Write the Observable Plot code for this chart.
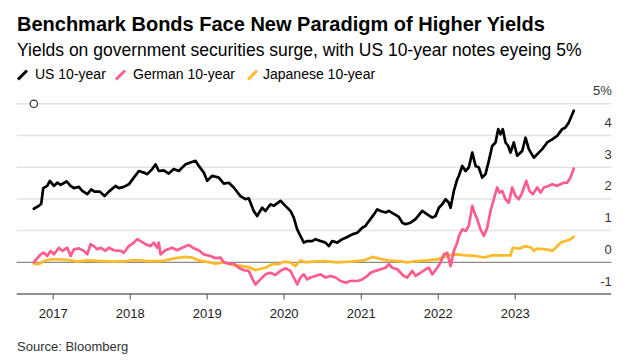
<!DOCTYPE html>
<html>
<head>
<meta charset="utf-8">
<script src="https://cdn.jsdelivr.net/npm/d3@7"></script>
<script src="https://cdn.jsdelivr.net/npm/@observablehq/plot@0.6"></script>
<style>
  html, body { margin: 0; padding: 0; background: #fff; }
  body { width: 638px; height: 362px; position: relative; overflow: hidden; font-family: "Liberation Sans", Arial, sans-serif; color: #000; }
  .t { position: absolute; white-space: nowrap; line-height: 1; }
  #title { left: 17px; top: 13.8px; font-size: 20px; font-weight: bold; }
  #subtitle { left: 17px; top: 41.9px; font-size: 17.5px; }
  .leg { top: 67.2px; font-size: 14px; }
  .sw { position: absolute; top: 68px; }
  #source { left: 17px; top: 340px; font-size: 13px; color: #333; }
  #chart { position: absolute; left: 0; top: 84px; }
</style>
</head>
<body>
<div id="title" class="t">Benchmark Bonds Face New Paradigm of Higher Yields</div>
<div id="subtitle" class="t">Yields on government securities surge, with US 10-year notes eyeing 5%</div>
<div id="legend"></div>
<div id="chart"></div>
<div id="source" class="t">Source: Bloomberg</div>
<script>
// Series: [decimal year, yield %]
const seriesNames = ["US 10-year", "German 10-year", "Japanese 10-year"];
const seriesColors = ["#000000", "#ff5c8c", "#fdbb2c"];

const us10 = [
[2016.748,1.69],[2016.813,1.78],[2016.844,1.85],[2016.870,2.34],[2016.922,2.41],[2016.956,2.57],
[2017.008,2.41],[2017.052,2.51],[2017.095,2.44],[2017.173,2.55],[2017.225,2.41],[2017.268,2.34],
[2017.332,2.38],[2017.377,2.25],[2017.442,2.15],[2017.494,2.30],[2017.536,2.23],[2017.605,2.23],
[2017.666,2.09],[2017.722,2.23],[2017.809,2.41],[2017.852,2.34],[2017.917,2.38],[2017.982,2.46],
[2018.047,2.67],[2018.112,2.88],[2018.177,2.83],[2018.221,2.78],[2018.286,2.94],[2018.329,3.09],
[2018.371,2.88],[2018.436,2.90],[2018.501,2.80],[2018.566,2.94],[2018.631,2.88],[2018.718,3.09],
[2018.783,3.15],[2018.848,3.20],[2018.891,3.04],[2018.956,2.83],[2019.000,2.57],[2019.065,2.73],
[2019.151,2.67],[2019.216,2.48],[2019.281,2.51],[2019.345,2.36],[2019.432,2.09],[2019.497,1.99],
[2019.540,2.02],[2019.605,1.62],[2019.649,1.46],[2019.714,1.72],[2019.757,1.62],[2019.822,1.83],
[2019.865,1.78],[2019.952,1.94],[2020.017,1.78],[2020.082,1.62],[2020.125,1.41],[2020.169,1.04],
[2020.212,0.83],[2020.255,0.62],[2020.299,0.67],[2020.364,0.67],[2020.406,0.73],[2020.471,0.67],
[2020.536,0.62],[2020.579,0.51],[2020.623,0.67],[2020.688,0.62],[2020.753,0.73],[2020.818,0.80],
[2020.883,0.88],[2020.948,0.93],[2021.013,1.09],[2021.056,1.15],[2021.099,1.30],[2021.164,1.51],
[2021.208,1.67],[2021.251,1.62],[2021.316,1.57],[2021.358,1.62],[2021.423,1.53],[2021.488,1.43],
[2021.532,1.25],[2021.575,1.20],[2021.640,1.25],[2021.705,1.36],[2021.792,1.62],[2021.857,1.51],
[2021.922,1.41],[2021.965,1.46],[2022.008,1.72],[2022.052,1.83],[2022.095,1.99],[2022.138,1.88],
[2022.160,1.72],[2022.203,2.25],[2022.247,2.62],[2022.268,2.73],[2022.312,3.04],[2022.355,2.88],
[2022.397,2.99],[2022.442,3.46],[2022.485,3.04],[2022.527,2.99],[2022.571,2.67],[2022.614,2.78],
[2022.657,3.20],[2022.701,3.67],[2022.744,3.78],[2022.779,4.20],[2022.809,4.04],[2022.839,4.20],
[2022.874,3.78],[2022.909,3.67],[2022.939,3.46],[2022.982,3.78],[2023.026,3.36],[2023.091,3.51],
[2023.134,3.93],[2023.177,3.57],[2023.242,3.30],[2023.306,3.46],[2023.351,3.57],[2023.416,3.78],
[2023.481,3.88],[2023.545,3.99],[2023.610,4.20],[2023.653,4.25],[2023.696,4.41],[2023.761,4.78]
];

const de10 = [
[2016.748,0.00],[2016.835,0.25],[2016.878,0.30],[2016.922,0.20],[2016.965,0.36],[2017.008,0.25],
[2017.073,0.46],[2017.117,0.36],[2017.182,0.46],[2017.225,0.20],[2017.268,0.41],[2017.332,0.44],
[2017.397,0.36],[2017.442,0.25],[2017.484,0.57],[2017.527,0.51],[2017.571,0.41],[2017.614,0.46],
[2017.679,0.36],[2017.722,0.46],[2017.787,0.38],[2017.874,0.36],[2017.917,0.30],[2017.982,0.51],
[2018.047,0.62],[2018.091,0.73],[2018.134,0.67],[2018.199,0.57],[2018.264,0.51],[2018.306,0.62],
[2018.351,0.46],[2018.371,0.62],[2018.394,0.25],[2018.458,0.38],[2018.545,0.46],[2018.610,0.38],
[2018.675,0.46],[2018.761,0.55],[2018.826,0.44],[2018.891,0.38],[2018.956,0.25],[2019.043,0.20],
[2019.108,0.13],[2019.173,0.15],[2019.216,0.00],[2019.281,-0.04],[2019.345,-0.04],[2019.410,-0.17],
[2019.475,-0.25],[2019.540,-0.27],[2019.592,-0.54],[2019.627,-0.70],[2019.692,-0.54],[2019.757,-0.38],
[2019.822,-0.33],[2019.887,-0.40],[2019.952,-0.27],[2020.017,-0.19],[2020.082,-0.27],[2020.125,-0.48],
[2020.169,-0.70],[2020.212,-0.48],[2020.255,-0.38],[2020.299,-0.54],[2020.342,-0.48],[2020.406,-0.43],
[2020.471,-0.38],[2020.536,-0.48],[2020.601,-0.43],[2020.666,-0.48],[2020.731,-0.59],[2020.795,-0.64],
[2020.861,-0.59],[2020.948,-0.59],[2021.013,-0.54],[2021.078,-0.43],[2021.121,-0.33],[2021.186,-0.27],
[2021.251,-0.22],[2021.316,-0.17],[2021.358,-0.06],[2021.403,-0.17],[2021.468,-0.22],[2021.510,-0.33],
[2021.553,-0.43],[2021.597,-0.48],[2021.662,-0.27],[2021.705,-0.43],[2021.770,-0.33],[2021.835,-0.22],
[2021.878,-0.17],[2021.922,-0.38],[2021.987,-0.17],[2022.030,0.00],[2022.073,0.25],[2022.117,0.30],
[2022.160,-0.12],[2022.203,0.36],[2022.247,0.62],[2022.268,0.83],[2022.312,1.04],[2022.355,0.99],
[2022.397,1.15],[2022.442,1.78],[2022.462,1.62],[2022.506,1.36],[2022.549,1.04],[2022.592,0.83],
[2022.636,1.09],[2022.679,1.62],[2022.722,1.99],[2022.766,2.36],[2022.796,2.20],[2022.831,2.25],
[2022.874,1.99],[2022.917,1.88],[2022.961,2.36],[2023.004,2.09],[2023.047,1.99],[2023.091,2.20],
[2023.143,2.57],[2023.186,2.25],[2023.229,2.15],[2023.286,2.36],[2023.330,2.20],[2023.372,2.36],
[2023.429,2.41],[2023.481,2.46],[2023.545,2.41],[2023.588,2.46],[2023.631,2.51],[2023.675,2.51],
[2023.718,2.67],[2023.761,2.96]
];

const jp10 = [
[2016.748,-0.04],[2016.813,-0.06],[2016.878,0.04],[2016.965,0.09],[2017.095,0.09],[2017.225,0.06],
[2017.312,0.02],[2017.442,0.06],[2017.614,0.04],[2017.787,0.02],[2017.961,0.04],[2018.069,0.07],
[2018.221,0.04],[2018.394,0.04],[2018.458,0.06],[2018.589,0.13],[2018.718,0.17],[2018.805,0.15],
[2018.891,0.06],[2018.978,0.02],[2019.108,-0.04],[2019.216,0.00],[2019.325,-0.08],[2019.455,-0.12],
[2019.562,-0.17],[2019.627,-0.25],[2019.670,-0.22],[2019.757,-0.17],[2019.844,-0.06],[2019.930,-0.06],
[2019.995,0.02],[2020.082,0.00],[2020.147,-0.12],[2020.212,0.06],[2020.277,0.00],[2020.364,0.02],
[2020.514,0.04],[2020.688,0.00],[2020.861,0.02],[2021.034,0.06],[2021.143,0.17],[2021.208,0.13],
[2021.338,0.06],[2021.468,0.04],[2021.597,0.00],[2021.727,0.04],[2021.857,0.06],[2021.987,0.09],
[2022.073,0.17],[2022.160,0.23],[2022.247,0.25],[2022.355,0.22],[2022.485,0.20],[2022.592,0.15],
[2022.701,0.22],[2022.831,0.22],[2022.939,0.22],[2022.969,0.46],[2023.047,0.43],[2023.134,0.51],
[2023.212,0.46],[2023.242,0.36],[2023.286,0.43],[2023.394,0.41],[2023.481,0.36],[2023.526,0.46],
[2023.590,0.62],[2023.655,0.67],[2023.719,0.73],[2023.761,0.81]
];

const yearTicks = [2017, 2018, 2019, 2020, 2021, 2022, 2023];
const yTicks = [5, 4, 3, 2, 1, 0, -1];
const yTickLabels = ["5%", "4", "3", "2", "1", "0", "-1"];
const xExtent = [2016.5325, 2024.2545];

function yd(y) {
  const yr = Math.floor(y);
  const s = Date.UTC(yr, 0, 1), e = Date.UTC(yr + 1, 0, 1);
  return new Date(s + (y - yr) * (e - s));
}

const toRows = (arr) => arr.map(([t, v]) => ({date: yd(t), value: v}));
const usRows = toRows(us10), deRows = toRows(de10), jpRows = toRows(jp10);
const xEnd = yd(xExtent[1]);

// Legend
const legend = document.getElementById("legend");
const legPos = [[17, 35], [115, 133], [247, 263]];
seriesNames.forEach((name, i) => {
  const sw = document.createElementNS("http://www.w3.org/2000/svg", "svg");
  sw.setAttribute("width", 14); sw.setAttribute("height", 14);
  sw.setAttribute("class", "sw");
  sw.style.left = (legPos[i][0] - 1) + "px";
  sw.innerHTML = `<line x1="2" y1="11.5" x2="11" y2="2.5" stroke="${seriesColors[i]}" stroke-width="3"/>`;
  legend.appendChild(sw);
  const tx = document.createElement("div");
  tx.className = "t leg";
  tx.style.left = legPos[i][1] + "px";
  tx.textContent = name;
  legend.appendChild(tx);
});

const chart = Plot.plot({
  width: 638,
  height: 246,
  marginTop: 19.3,
  marginBottom: 36.5,
  marginLeft: 16.7,
  marginRight: 26.7,
  style: {fontFamily: "Liberation Sans, Arial, sans-serif", background: "transparent", overflow: "visible"},
  x: {type: "utc", domain: xExtent.map(yd)},
  y: {domain: [-1, 5], axis: null},
  marks: [
    Plot.ruleY(yTicks.filter(d => d > 0), {stroke: "#e3e3e3", strokeWidth: 1.5}),
    Plot.ruleY([0], {stroke: "#8a8a8a", strokeWidth: 1.2}),
    Plot.ruleY([-1], {stroke: "#6a6a6a", strokeWidth: 1.5}),
    Plot.axisX({
      ticks: yearTicks.map(y => yd(y)),
      tickFormat: d => String(d.getUTCFullYear()),
      tickSize: 6,
      tickPadding: 8.6,
      stroke: "#6a6a6a",
      strokeWidth: 1.2,
      fill: "#222",
      fontSize: 13
    }),
    Plot.text(yTicks, {
      x: () => xEnd,
      y: d => d,
      text: (d, i) => yTickLabels[i],
      textAnchor: "end",
      lineAnchor: "bottom",
      dy: -8.5,
      fontSize: 13,
      fill: "#333"
    }),
    Plot.line(jpRows, {x: "date", y: "value", stroke: seriesColors[2], strokeWidth: 2.7, curve: "linear"}),
    Plot.line(deRows, {x: "date", y: "value", stroke: seriesColors[1], strokeWidth: 2.7, curve: "linear"}),
    Plot.line(usRows, {x: "date", y: "value", stroke: seriesColors[0], strokeWidth: 2.7, curve: "linear"}),
    Plot.dot([us10[0][0]], {x: d => yd(d), y: () => 5, r: 3.7, stroke: "#333", strokeWidth: 1.2, fill: "#fff"})
  ]
});
document.getElementById("chart").appendChild(chart);
</script>
</body>
</html>
